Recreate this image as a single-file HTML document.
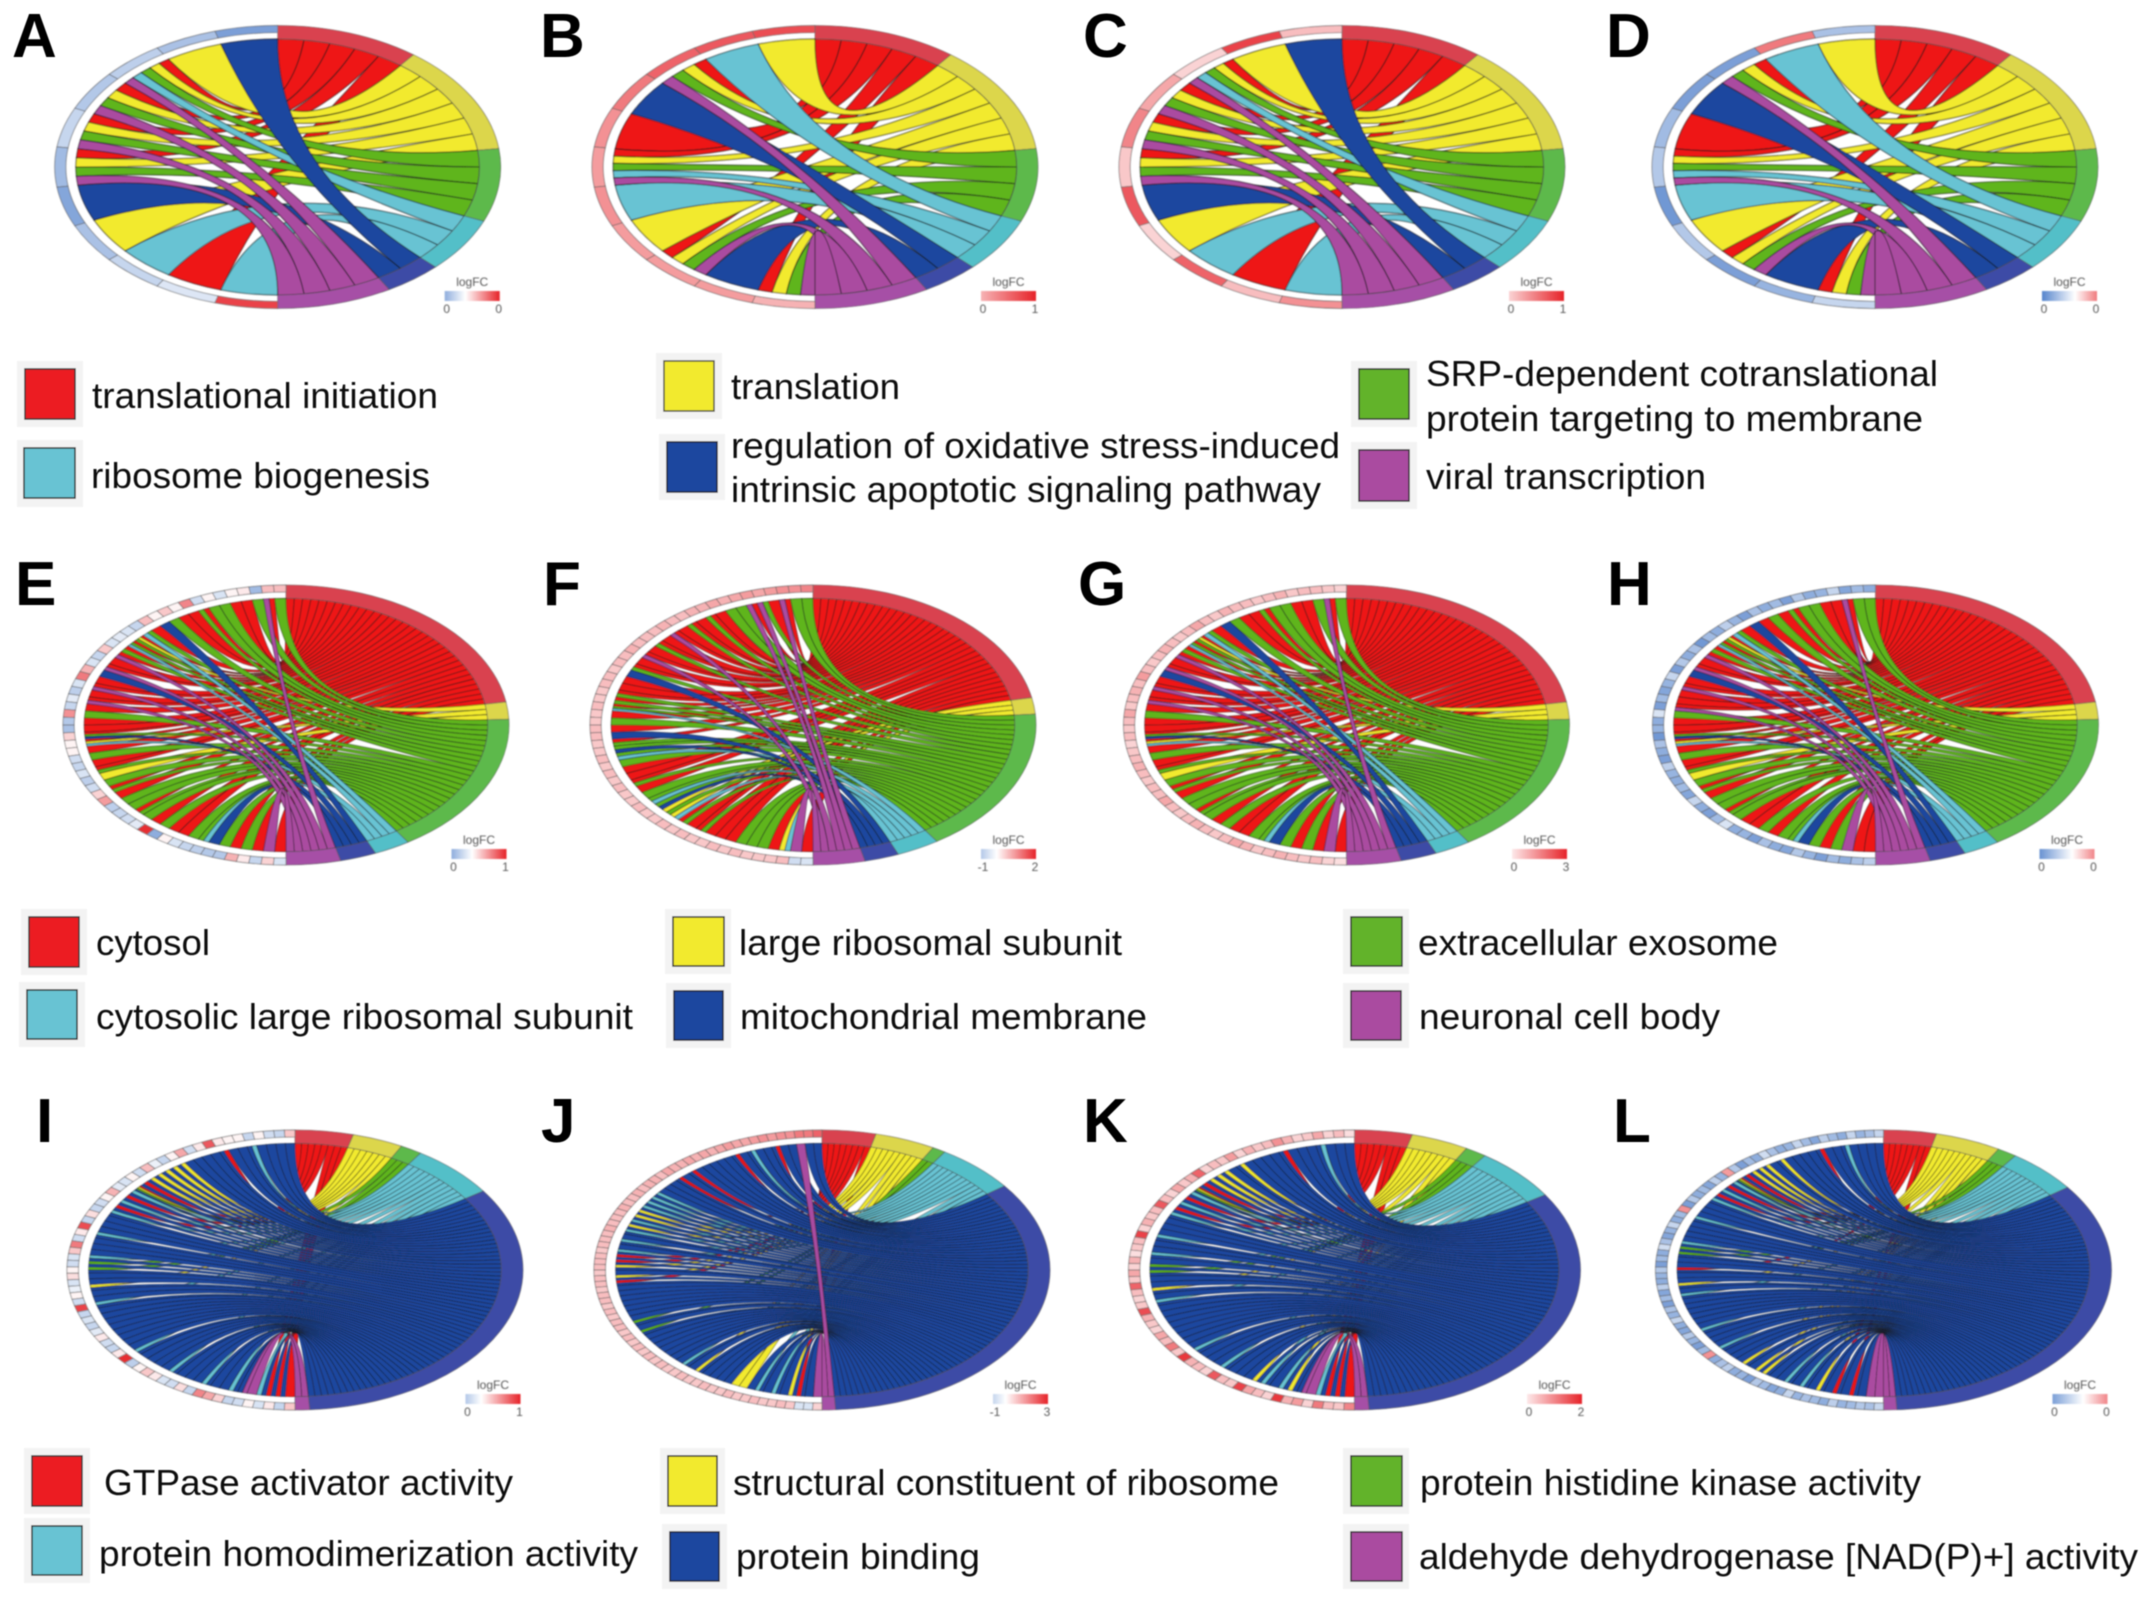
<!DOCTYPE html>
<html lang="en">
<head>
<meta charset="utf-8">
<title>GO chord diagrams</title>
<style>
html,body{margin:0;padding:0;background:#fff;}
svg{display:block;}
.lg{font-family:"Liberation Sans",sans-serif;font-size:36px;fill:#111;}
.pl{font-family:"Liberation Sans",sans-serif;font-size:62px;font-weight:bold;fill:#000;}
</style>
</head>
<body>
<svg id="figure" xmlns="http://www.w3.org/2000/svg" width="2150" height="1602" viewBox="0 0 2150 1602">
<defs>
<filter id="soft" x="-5%" y="-5%" width="110%" height="110%"><feGaussianBlur stdDeviation="0.7"/></filter>
<filter id="softText" x="-5%" y="-5%" width="110%" height="110%"><feGaussianBlur stdDeviation="0.45"/></filter>
</defs>
<g id="panels"></g>

<g filter="url(#softText)">
<text class="pl" x="12" y="57">A</text>
<text class="pl" x="540" y="57">B</text>
<text class="pl" x="1083" y="57">C</text>
<text class="pl" x="1606" y="57">D</text>
<text class="pl" x="15" y="605">E</text>
<text class="pl" x="543" y="605">F</text>
<text class="pl" x="1078" y="605">G</text>
<text class="pl" x="1607" y="605">H</text>
<text class="pl" x="36" y="1142">I</text>
<text class="pl" x="541" y="1142">J</text>
<text class="pl" x="1083" y="1142">K</text>
<text class="pl" x="1613" y="1142">L</text>
</g>

<g filter="url(#softText)">
<g>
<rect x="17" y="361" width="66" height="66" fill="#f3f3f3"/><rect x="25" y="369" width="50" height="50" fill="#EC1C24" stroke="#333" stroke-width="1.5"/>
<text class="lg" x="92" y="408" textLength="346" lengthAdjust="spacingAndGlyphs">translational initiation</text></g>
<g>
<rect x="17" y="440" width="66" height="67" fill="#f3f3f3"/><rect x="24" y="448" width="51" height="50" fill="#68C3D3" stroke="#333" stroke-width="1.5"/>
<text class="lg" x="91" y="488" textLength="339" lengthAdjust="spacingAndGlyphs">ribosome biogenesis</text></g>
<g>
<rect x="656" y="353" width="66" height="66" fill="#f3f3f3"/><rect x="664" y="361" width="50" height="50" fill="#F2EA2E" stroke="#554" stroke-width="1.5"/>
<text class="lg" x="731" y="399" textLength="169" lengthAdjust="spacingAndGlyphs">translation</text></g>
<g>
<rect x="659" y="434" width="66" height="66" fill="#f3f3f3"/><rect x="667" y="442" width="50" height="50" fill="#1B479F" stroke="#223" stroke-width="1.5"/>
<text class="lg" x="731" y="458" textLength="609" lengthAdjust="spacingAndGlyphs">regulation of oxidative stress-induced</text>
<text class="lg" x="731" y="502" textLength="590" lengthAdjust="spacingAndGlyphs">intrinsic apoptotic signaling pathway</text></g>
<g>
<rect x="1351" y="361" width="66" height="66" fill="#f3f3f3"/><rect x="1359" y="369" width="50" height="50" fill="#62B32A" stroke="#333" stroke-width="1.5"/>
<text class="lg" x="1426" y="386" textLength="512" lengthAdjust="spacingAndGlyphs">SRP-dependent cotranslational</text>
<text class="lg" x="1426" y="431" textLength="497" lengthAdjust="spacingAndGlyphs">protein targeting to membrane</text></g>
<g>
<rect x="1351" y="442" width="66" height="67" fill="#f3f3f3"/><rect x="1359" y="450" width="50" height="51" fill="#AA4BA0" stroke="#333" stroke-width="1.5"/>
<text class="lg" x="1426" y="489" textLength="280" lengthAdjust="spacingAndGlyphs">viral transcription</text></g>
</g>

<g filter="url(#softText)">
<g>
<rect x="21" y="909" width="66" height="66" fill="#f3f3f3"/><rect x="29" y="917" width="50" height="50" fill="#EC1C24" stroke="#333" stroke-width="1.5"/>
<text class="lg" x="96" y="955" textLength="114" lengthAdjust="spacingAndGlyphs">cytosol</text></g>
<g>
<rect x="19" y="982" width="66" height="65" fill="#f3f3f3"/><rect x="27" y="990" width="50" height="49" fill="#68C3D3" stroke="#333" stroke-width="1.5"/>
<text class="lg" x="96" y="1029" textLength="537" lengthAdjust="spacingAndGlyphs">cytosolic large ribosomal subunit</text></g>
<g>
<rect x="665" y="909" width="66" height="65" fill="#f3f3f3"/><rect x="673" y="917" width="51" height="49" fill="#F2EA2E" stroke="#333" stroke-width="1.5"/>
<text class="lg" x="739" y="955" textLength="383" lengthAdjust="spacingAndGlyphs">large ribosomal subunit</text></g>
<g>
<rect x="666" y="983" width="65" height="65" fill="#f3f3f3"/><rect x="674" y="991" width="49" height="49" fill="#1B479F" stroke="#223" stroke-width="1.5"/>
<text class="lg" x="740" y="1029" textLength="407" lengthAdjust="spacingAndGlyphs">mitochondrial membrane</text></g>
<g>
<rect x="1343" y="909" width="66" height="65" fill="#f3f3f3"/><rect x="1351" y="917" width="51" height="49" fill="#62B32A" stroke="#333" stroke-width="1.5"/>
<text class="lg" x="1418" y="955" textLength="360" lengthAdjust="spacingAndGlyphs">extracellular exosome</text></g>
<g>
<rect x="1343" y="983" width="66" height="65" fill="#f3f3f3"/><rect x="1351" y="991" width="50" height="49" fill="#AA4BA0" stroke="#333" stroke-width="1.5"/>
<text class="lg" x="1419" y="1029" textLength="301" lengthAdjust="spacingAndGlyphs">neuronal cell body</text></g>
</g>

<g filter="url(#softText)">
<g>
<rect x="24" y="1448" width="66" height="66" fill="#f3f3f3"/><rect x="32" y="1456" width="50" height="50" fill="#EC1C24" stroke="#333" stroke-width="1.5"/>
<text class="lg" x="104" y="1495" textLength="409" lengthAdjust="spacingAndGlyphs">GTPase activator activity</text></g>
<g>
<rect x="24" y="1518" width="66" height="65" fill="#f3f3f3"/><rect x="32" y="1526" width="50" height="49" fill="#68C3D3" stroke="#333" stroke-width="1.5"/>
<text class="lg" x="99" y="1566" textLength="539" lengthAdjust="spacingAndGlyphs">protein homodimerization activity</text></g>
<g>
<rect x="660" y="1448" width="65" height="66" fill="#f3f3f3"/><rect x="668" y="1456" width="49" height="50" fill="#F2EA2E" stroke="#333" stroke-width="1.5"/>
<text class="lg" x="733" y="1495" textLength="546" lengthAdjust="spacingAndGlyphs">structural constituent of ribosome</text></g>
<g>
<rect x="662" y="1524" width="65" height="65" fill="#f3f3f3"/><rect x="670" y="1532" width="49" height="49" fill="#1B479F" stroke="#223" stroke-width="1.5"/>
<text class="lg" x="736" y="1569" textLength="244" lengthAdjust="spacingAndGlyphs">protein binding</text></g>
<g>
<rect x="1343" y="1448" width="66" height="66" fill="#f3f3f3"/><rect x="1351" y="1456" width="51" height="50" fill="#62B32A" stroke="#333" stroke-width="1.5"/>
<text class="lg" x="1420" y="1495" textLength="501" lengthAdjust="spacingAndGlyphs">protein histidine kinase activity</text></g>
<g>
<rect x="1343" y="1524" width="66" height="65" fill="#f3f3f3"/><rect x="1351" y="1532" width="51" height="49" fill="#AA4BA0" stroke="#333" stroke-width="1.5"/>
<text class="lg" x="1419" y="1569" textLength="719" lengthAdjust="spacingAndGlyphs">aldehyde dehydrogenase [NAD(P)+] activity</text></g>
</g>
</svg>

<script>
// Term membership of each gene, listed from the top of the left half downwards.
// r,y,g,c,b,p = red, yellow, green, cyan, blue, purple term.
const genesA = 'b y rygcp rygp rygp rygp b y c r c'.split(' ');
const genesB = 'y c rygp b r rygcp c y rygp b rygp'.split(' ');
const genesC = 'b y rygcp rygp rygp rygp b y c r c'.split(' ');
const genesD = 'y c rygp b r rygcp c y rygp b rygp'.split(' ');

const genesE = 'g rp g r r g g rg r r g b r gc ryg rgc rg rp r rp b r rp r rp r g r r rgb ryc r g r rg y g rg r g g rg g r g r r g gc b g r g r p r'.split(' ');
const genesF = 'g g rp r gp rp g g r rg r rg r rp r rg r rp r rg b r r rg rg rgc r g r b rg gb gc g r r rg r g gc gb yg yc rg r rg r r r g g g r yc p r'.split(' ');
const genesG = 'g rp g r r g g rg r r g b r gc ryg rgc rg rp r rp b r rp r rp r g r r rgb ryc r g r rg y g rg r g g rg g r g r r g gc b g r g r p r'.split(' ');
const genesH = 'g g rp r r g g rg r g r b r gc ryg rgc rg rp r rp b r rp r r rp g r r rgb ryc r g r rg y g rg r g g rg g r r g r g gc b g r g p r r'.split(' ');

const genesI = 'b b b b cb b b rb b b b b yb yb yb yb yb rb rygb cb rb cb rb cb b b b cb b b b cb gb gb b b yb b b cb b b b b b b b b cb b b b b cb b b b cb b b cb bp p cb rb rb r'.split(' ');
const genesJ = 'b b p b b rb b b cb b rb b b b b b rb b rb b b b cb cb cb cb yb yb cb yb cb b cb b cb rb rb yb b yb rb b b b b b b b gb b gb b b b b b b b cb b yb b b b b y y b cb b cb b yb rb b p'.split(' ');
const genesK = 'b b b cb b b b rb b b b b yb b yb yb yb rb rygb cb rb cb rb cb b b b cb b b cb b gb gb b b yb b cb b b b b b b b b cb b b b cb b b b yb cb b cb yb bp p cb rb rb r'.split(' ');
const genesL = 'b b b b cb b b rb b b b b yb b yb yb yb rb rygb cb rb cb rb cb b b b cb b b b b cb gb gb b b rb b b yb b cb b b b b b b cb b b b cb b b b yb b yb yb b b cb b cb b yb b rb b rb b p p'.split(' ');

// Estimated logFC of each gene, scaled to the colour bar (-1 deep blue, 0 white, 1 deep red).
const lfcA = [-0.7,-0.45,-0.35,-0.4,-0.3,-0.5,-0.65,-0.45,-0.3,-0.18,0.85];
const lfcB = [0.8,0.75,0.7,0.6,0.5,0.45,0.5,0.45,0.45,0.45,0.35];
const lfcC = [0.3,0.85,0.2,0.4,0.55,0.25,0.75,0.2,0.7,0.3,0.5];
const lfcD = [-0.45,0.6,-0.7,-0.7,-0.5,-0.4,-0.75,-0.4,-0.7,-0.55,-0.3];
const lfcE = [0.3,0.3,-0.5,0.1,0.05,-0.2,0.05,-0.25,0.55,0.05,0.25,0.05,0.3,-0.3,-0.2,-0.15,-0.2,0.25,-0.3,-0.2,0.35,0.6,-0.2,-0.35,-0.15,-0.3,0.5,-0.4,-0.45,0.2,0.05,0.05,-0.25,-0.3,-0.2,-0.35,-0.25,0.2,0.45,-0.35,-0.3,-0.25,-0.15,0.95,-0.6,0.05,-0.2,-0.3,-0.35,-0.4,-0.4,0.35,0.1,-0.3,0.2,-0.2];
const lfcF = [0.55,0.5,0.5,0.45,0.4,0.45,0.4,0.35,0.4,0.35,0.35,0.3,0.3,0.35,0.3,0.3,0.3,0.35,0.3,0.3,0.25,0.3,0.3,0.25,0.25,0.3,0.25,0.25,0.3,0.3,0.25,0.25,0.3,0.25,0.3,0.25,0.3,0.25,0.25,0.3,0.25,0.25,0.3,0.25,0.3,0.25,0.25,0.3,0.25,0.3,0.25,0.25,0.25,0.3,-0.25,-0.2];
const lfcG = [0.2,0.25,0.3,0.3,0.25,0.35,0.3,0.25,0.3,0.3,0.35,0.25,0.3,0.4,0.3,0.25,0.3,0.35,0.3,0.25,0.3,0.45,0.3,0.35,0.3,0.25,0.4,0.3,0.25,0.3,0.2,0.25,0.3,0.35,0.3,0.25,0.3,0.3,0.4,0.3,0.25,0.3,0.35,0.3,0.25,0.3,0.4,0.35,0.25,0.3,0.35,0.3,0.25,0.3,0.2,0.15];
const lfcH = [-0.6,-0.5,-0.65,-0.3,-0.55,-0.6,-0.4,-0.7,-0.5,-0.6,-0.45,-0.7,-0.55,-0.35,-0.6,-0.5,-0.75,-0.45,-0.6,-0.4,-0.7,-0.3,-0.55,-0.65,-0.5,-0.7,-0.2,-0.6,-0.55,-0.75,-0.45,-0.6,-0.7,-0.35,-0.55,-0.6,-0.5,-0.65,-0.3,-0.6,-0.7,-0.5,-0.2,-0.6,-0.55,-0.7,-0.45,-0.6,-0.65,-0.4,-0.55,-0.7,-0.5,-0.6,-0.45,-0.35];
const lfcI = [0.25,-0.3,-0.25,0.05,-0.3,0.05,0.05,0.1,0.75,0.1,-0.25,0.4,0.05,-0.3,-0.1,0.3,-0.25,0.05,-0.2,-0.15,0.35,0.05,-0.25,-0.3,0.15,-0.3,0.8,0.1,-0.25,0.6,0.25,-0.2,-0.25,0.05,0.15,-0.2,-0.1,0.05,-0.25,0.85,-0.3,-0.2,-0.3,-0.15,0.1,-0.25,-0.3,0.1,0.95,-0.35,0.05,0.25,0.1,-0.2,-0.25,0.15,-0.3,0.55,0.4,0.2,-0.3,-0.25,0.05,-0.2,0.1,-0.3,0.25];
const lfcJ = [0.7,0.6,0.6,0.5,0.5,0.45,0.5,0.45,0.4,0.4,0.45,0.4,0.35,0.4,0.35,0.4,0.35,0.35,0.4,0.3,0.35,0.35,0.3,0.35,0.3,0.3,0.35,0.3,0.3,0.3,0.35,0.3,0.3,0.3,0.25,0.3,0.3,0.3,0.25,0.3,0.3,0.25,0.3,0.3,0.25,0.3,0.25,0.3,0.3,0.25,0.3,0.25,0.3,0.25,0.3,0.25,0.3,0.25,0.25,0.3,0.25,0.25,0.3,0.25,0.25,0.3,0.25,0.25,0.3,0.25,0.25,0.3,0.25,-0.2,-0.2,0.2];
const lfcK = [0.15,0.3,0.2,0.4,0.25,0.2,0.35,0.5,0.3,0.25,0.35,0.2,0.45,0.25,0.3,0.2,0.7,0.35,0.25,0.4,0.2,0.3,0.75,0.3,0.25,0.35,0.2,0.85,0.3,0.25,0.15,0.35,0.2,0.4,0.25,0.7,0.3,0.2,0.25,0.8,0.35,0.25,0.2,0.4,0.3,0.6,0.25,0.9,0.35,0.3,0.2,0.75,0.3,0.25,0.85,0.4,0.3,0.2,0.9,0.35,0.45,0.2,0.6,0.3,0.25,0.55,0.3];
const lfcL = [-0.3,-0.45,-0.55,-0.3,-0.6,-0.5,-0.35,-0.65,-0.5,-0.3,-0.55,-0.6,-0.45,-0.25,-0.6,-0.5,-0.7,-0.4,0.45,-0.55,-0.35,-0.65,-0.5,-0.6,-0.4,-0.7,0.5,-0.5,-0.6,-0.3,-0.55,-0.65,-0.45,-0.25,-0.6,-0.5,-0.7,-0.4,-0.55,-0.6,-0.35,-0.65,-0.5,-0.7,-0.45,-0.55,-0.3,-0.6,-0.65,-0.4,-0.55,-0.7,-0.5,0.5,-0.6,-0.45,-0.35,-0.6,-0.55,-0.7,-0.4,-0.5,-0.65,-0.6,-0.3,-0.55,-0.45,-0.5,-0.6,-0.35,-0.55,-0.5,-0.4,-0.45,-0.3,-0.35];

// Colour-bar end labels and their ends on the scaled logFC axis.
const ticksA = ['0','0'], rangeA = [-0.6,1];
const ticksB = ['0','1'], rangeB = [0.35,1];
const ticksC = ['0','1'], rangeC = [0.2,1];
const ticksD = ['0','0'], rangeD = [-0.9,0.6];
const ticksE = ['0','1'], rangeE = [-0.6,1];
const ticksF = ['-1','2'], rangeF = [-0.4,1];
const ticksG = ['0','3'], rangeG = [0.1,1];
const ticksH = ['0','0'], rangeH = [-0.8,0.55];
const ticksI = ['0','1'], rangeI = [-0.4,1];
const ticksJ = ['-1','3'], rangeJ = [-0.3,1];
const ticksK = ['0','2'], rangeK = [0.1,1];
const ticksL = ['0','0'], rangeL = [-0.7,0.55];

const termOrder = ['r','y','g','c','b','p'];
const termNames = {r:'red',y:'yellow',g:'green',c:'cyan',b:'blue',p:'purple'};
const ribbonFill = {r:'#EE1515',y:'#F2EA2E',g:'#5FB51E',c:'#68C3D3',b:'#1B479F',p:'#AA4BA0'};
const bandFill = {r:'#D9434F',y:'#DCD64B',g:'#5DB94B',c:'#52BFC8',b:'#3E4CA6',p:'#A64FA6'};

const SVGNS = 'http://www.w3.org/2000/svg';
const panelRoot = document.getElementById('panels');
const defsRoot = document.querySelector('#figure defs');

function mix(c1, c2, t){
  const r = c1.map(function(v,i){ return Math.round(v + (c2[i]-v)*t); });
  return 'rgb(' + r.join(',') + ')';
}
function lfcColour(v){
  const w = Math.min(1, Math.abs(v));
  return v < 0 ? mix([255,255,255],[66,118,198],w) : mix([255,255,255],[230,34,40],w);
}
function make(tag, attrs){
  const el = document.createElementNS(SVGNS, tag);
  for (const k in attrs) el.setAttribute(k, attrs[k]);
  return el;
}

function drawPanel(id, cx, cy, rx, ry, genes, lfc, ticks, range, strokeW, barDx){
  // angle axis: degrees clockwise from the top of the ellipse
  const pos = function(deg, r){
    const a = deg*Math.PI/180;
    return (cx + r*rx*Math.sin(a)).toFixed(2) + ' ' + (cy - r*ry*Math.cos(a)).toFixed(2);
  };
  const geneAngle = function(g){ return 360 - g*180/genes.length; };

  const links = [];
  genes.forEach(function(tok, i){
    const parts = termOrder.filter(function(t){ return tok.indexOf(t) >= 0; });
    parts.forEach(function(t, j){ links.push({gene:i, j:j, n:parts.length, term:t}); });
  });
  const slotAngle = function(s){ return s*180/links.length; };

  const panel = make('g', {});
  
  
  panel.setAttribute('filter', 'url(#soft)');
  panelRoot.appendChild(panel);

  const RIN = 0.905, RGENE = 0.95;
  let slot = 0;
  termOrder.forEach(function(t){
    const own = links.filter(function(l){ return l.term === t; });
    const startSlot = slot;
    own.forEach(function(l, idx){
      const ga = geneAngle(l.gene + l.j/l.n);
      const gb = geneAngle(l.gene + (l.j+1)/l.n);
      const ta = slotAngle(startSlot + idx);
      const tb = slotAngle(startSlot + idx + 1);
      const arc = 'A ' + (rx*RIN) + ' ' + (ry*RIN) + ' 0 0 1 ';
      const d = 'M ' + pos(ga,RIN) + ' Q ' + cx + ' ' + cy + ' ' + pos(ta,RIN) + ' ' + arc + pos(tb,RIN) +
                ' Q ' + cx + ' ' + cy + ' ' + pos(gb,RIN) + ' ' + arc + pos(ga,RIN) + ' Z';
      const ribbon = make('path', {d:d, fill:ribbonFill[t], stroke:'#161616', 'stroke-width':strokeW, 'stroke-opacity':0.72});
      
      
      panel.appendChild(ribbon);
    });
    slot += own.length;
    if (own.length){
      const a1 = slotAngle(startSlot), a2 = slotAngle(slot);
      const d = 'M ' + pos(a1,1) + ' A ' + rx + ' ' + ry + ' 0 0 1 ' + pos(a2,1) +
                ' L ' + pos(a2,RIN) + ' A ' + (rx*RIN) + ' ' + (ry*RIN) + ' 0 0 0 ' + pos(a1,RIN) + ' Z';
      const band = make('path', {d:d, fill:bandFill[t], stroke:'#555', 'stroke-width':0.6});
      
      
      panel.appendChild(band);
    }
  });

  genes.forEach(function(tok, i){
    const a1 = geneAngle(i+1), a2 = geneAngle(i);
    const d = 'M ' + pos(a1,1) + ' A ' + rx + ' ' + ry + ' 0 0 1 ' + pos(a2,1) +
              ' L ' + pos(a2,RGENE) + ' A ' + (rx*RGENE) + ' ' + (ry*RGENE) + ' 0 0 0 ' + pos(a1,RGENE) + ' Z';
    const cell = make('path', {d:d, fill:lfcColour(lfc[i] === undefined ? 0 : lfc[i]), stroke:'#666', 'stroke-width':0.7});
    
    
    panel.appendChild(cell);
  });

  // colour bar
  const gid = 'bar' + id;
  const grad = make('linearGradient', {id:gid, x1:0, x2:1, y1:0, y2:0});
  const stops = [[0, range[0]]];
  if (range[0] < 0 && range[1] > 0) stops.push([(-range[0])/(range[1]-range[0]), 0]);
  stops.push([1, range[1]]);
  stops.forEach(function(s){
    grad.appendChild(make('stop', {offset:s[0], 'stop-color':lfcColour(s[1])}));
  });
  defsRoot.appendChild(grad);
  const barX = cx + barDx, barW = 55, barY = cy + 124;
  const bar = make('rect', {x:barX, y:barY, width:barW, height:10, fill:'url(#' + gid + ')'});
  
  
  panel.appendChild(bar);
  const title = make('text', {x:barX+barW/2, y:barY-5, 'text-anchor':'middle', 'font-family':'Liberation Sans, sans-serif', 'font-size':12, fill:'#555'});
  title.textContent = 'logFC';
  
  
  panel.appendChild(title);
  ticks.forEach(function(lab, i){
    const tx = make('text', {x:barX + (i ? barW-1 : 2), y:barY+22, 'text-anchor':'middle', 'font-family':'Liberation Sans, sans-serif', 'font-size':12, fill:'#555'});
    tx.textContent = lab;
    
    
    panel.appendChild(tx);
  });
}

drawPanel('A', 277.7, 167, 223, 141.5, genesA, lfcA, ticksA, rangeA, 1.1, 167);
drawPanel('B', 815, 167, 223, 141.5, genesB, lfcB, ticksB, rangeB, 1.1, 166);
drawPanel('C', 1342, 167, 223, 141.5, genesC, lfcC, ticksC, rangeC, 1.1, 167);
drawPanel('D', 1875, 167, 223, 141.5, genesD, lfcD, ticksD, rangeD, 1.1, 167);
drawPanel('E', 286, 725, 223, 140, genesE, lfcE, ticksE, rangeE, 0.8, 165.5);
drawPanel('F', 813, 725, 223, 140, genesF, lfcF, ticksF, rangeF, 0.8, 168);
drawPanel('G', 1346.5, 725, 223, 140, genesG, lfcG, ticksG, rangeG, 0.8, 165.5);
drawPanel('H', 1875.5, 725, 223, 140, genesH, lfcH, ticksH, rangeH, 0.8, 164);
drawPanel('I', 295, 1270, 228, 140, genesI, lfcI, ticksI, rangeI, 0.7, 170.5);
drawPanel('J', 822, 1270, 228, 140, genesJ, lfcJ, ticksJ, rangeJ, 0.7, 171);
drawPanel('K', 1354.5, 1270, 226, 140, genesK, lfcK, ticksK, rangeK, 0.7, 172.5);
drawPanel('L', 1883.5, 1270, 228, 140, genesL, lfcL, ticksL, rangeL, 0.7, 169);
</script>
</body>
</html>
